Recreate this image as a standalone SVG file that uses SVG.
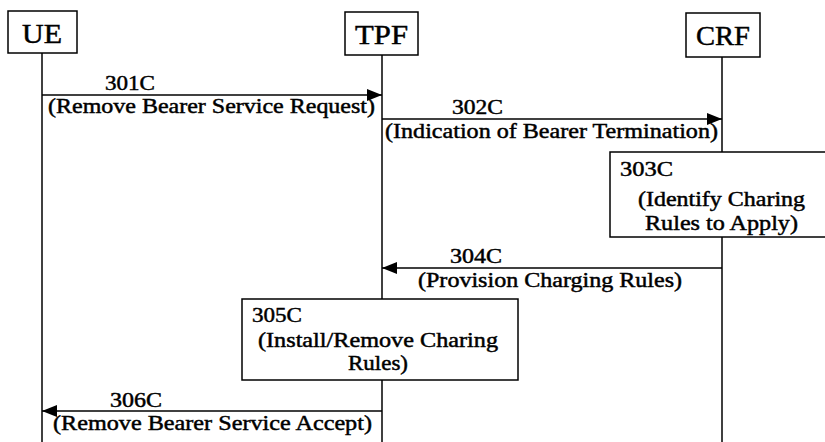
<svg xmlns="http://www.w3.org/2000/svg" width="825" height="442" viewBox="0 0 825 442">
<style>
text{font-family:"Liberation Serif","Times New Roman",serif;fill:#000;stroke:#000;stroke-width:0.45}
.t{font-size:27px}
.l{font-size:20px}
.b{fill:#fff;stroke:#000;stroke-width:1.5}
.ln{stroke:#000;stroke-width:1.5;fill:none}
</style>
<defs>
<marker id="ah" markerWidth="16" markerHeight="12" refX="15" refY="6" orient="auto" markerUnits="userSpaceOnUse">
<path d="M0,0 L15,6 L0,12 Z" fill="#000"/>
</marker>
</defs>
<g id="lifelines">
<line class="ln" x1="42" y1="53" x2="42" y2="442"/>
<line class="ln" x1="382" y1="55" x2="382" y2="442"/>
<line class="ln" x1="722" y1="57" x2="722" y2="442"/>
</g>
<g id="UE"><rect class="b" x="8" y="11" width="69" height="42"/><text class="t" x="22" y="43" textLength="40" lengthAdjust="spacingAndGlyphs">UE</text></g>
<g id="TPF"><rect class="b" x="345" y="12" width="73" height="43"/><text class="t" x="355" y="44" textLength="53" lengthAdjust="spacingAndGlyphs">TPF</text></g>
<g id="CRF"><rect class="b" x="686" y="13" width="74" height="44"/><text class="t" x="696" y="45" textLength="54" lengthAdjust="spacingAndGlyphs">CRF</text></g>
<g id="connectors">
<line class="ln" x1="42" y1="95" x2="382" y2="95" marker-end="url(#ah)"/>
<line class="ln" x1="382" y1="119" x2="722" y2="119" marker-end="url(#ah)"/>
<line class="ln" x1="722" y1="268" x2="382" y2="268" marker-end="url(#ah)"/>
<line class="ln" x1="382" y1="411" x2="42" y2="411" marker-end="url(#ah)"/>
</g>
<g id="m301C">
<text class="l" x="105" y="90" textLength="50" lengthAdjust="spacingAndGlyphs">301C</text>
<text class="l" x="48" y="113" textLength="327" lengthAdjust="spacingAndGlyphs">(Remove Bearer Service Request)</text>
</g>
<g id="m302C">
<text class="l" x="452" y="114" textLength="51" lengthAdjust="spacingAndGlyphs">302C</text>
<text class="l" x="385" y="138" textLength="333" lengthAdjust="spacingAndGlyphs">(Indication of Bearer Termination)</text>
</g>
<g id="s303C">
<rect class="b" x="610" y="152" width="220" height="85"/>
<text class="l" x="620" y="176" textLength="53" lengthAdjust="spacingAndGlyphs">303C</text>
<text class="l" x="638" y="206" textLength="167" lengthAdjust="spacingAndGlyphs">(Identify Charing</text>
<text class="l" x="645" y="230" textLength="153" lengthAdjust="spacingAndGlyphs">Rules to Apply)</text>
</g>
<g id="m304C">
<text class="l" x="450" y="263" textLength="52" lengthAdjust="spacingAndGlyphs">304C</text>
<text class="l" x="418" y="287" textLength="264" lengthAdjust="spacingAndGlyphs">(Provision Charging Rules)</text>
</g>
<g id="s305C">
<rect class="b" x="242" y="299" width="276" height="81"/>
<text class="l" x="252" y="322" textLength="50" lengthAdjust="spacingAndGlyphs">305C</text>
<text class="l" x="258" y="347" textLength="240" lengthAdjust="spacingAndGlyphs">(Install/Remove Charing</text>
<text class="l" x="348" y="370" textLength="60" lengthAdjust="spacingAndGlyphs">Rules)</text>
</g>
<g id="m306C">
<text class="l" x="110" y="407" textLength="52" lengthAdjust="spacingAndGlyphs">306C</text>
<text class="l" x="53" y="430" textLength="319" lengthAdjust="spacingAndGlyphs">(Remove Bearer Service Accept)</text>
</g>
</svg>
